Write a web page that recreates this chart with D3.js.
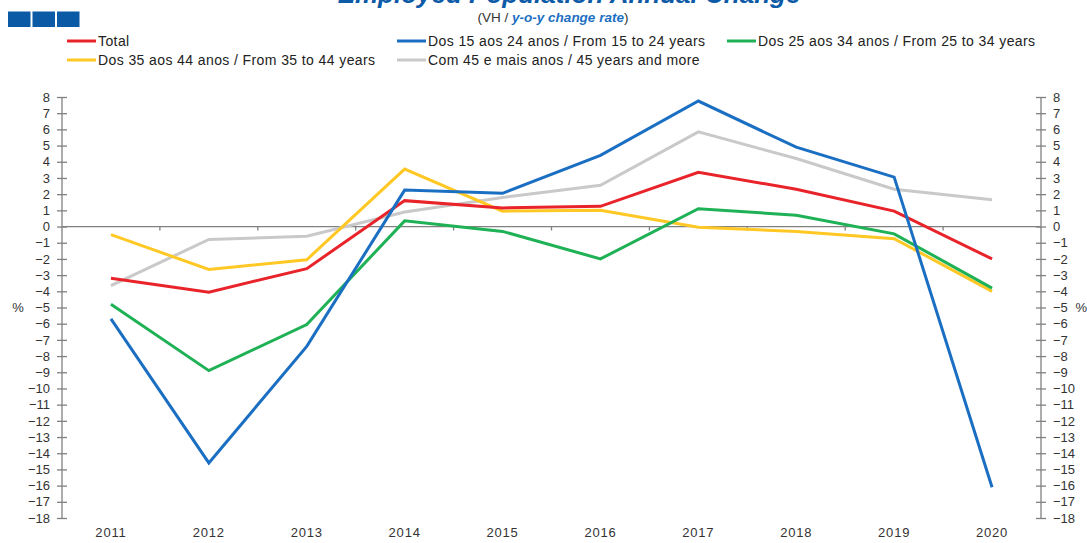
<!DOCTYPE html>
<html><head><meta charset="utf-8">
<script src="https://cdn.jsdelivr.net/npm/d3@7"></script>
<style>body{margin:0;background:#fff;}svg{display:block;font-family:"Liberation Sans",Arial,sans-serif;}</style>
</head><body>
<svg id="c" width="1087" height="543"></svg>
<script>
const years = ["2011","2012","2013","2014","2015","2016","2017","2018","2019","2020"];
const total   = [-3.2,-4.05,-2.6,1.6,1.15,1.25,3.35,2.3,0.95,-2.0];
const age1524 = [-5.7,-14.6,-7.4,2.25,2.05,4.4,7.75,4.9,3.05,-16.1];
const age2534 = [-4.8,-8.9,-6.05,0.35,-0.3,-2.0,1.1,0.7,-0.45,-3.8];
const age3544 = [-0.5,-2.65,-2.05,3.55,0.95,1.0,-0.05,-0.3,-0.75,-4.0];
const age45   = [-3.65,-0.8,-0.6,0.9,1.8,2.55,5.85,4.2,2.3,1.65];
const yTicks = d3.range(-18, 9, 1);
const seriesNames = ["Total","Dos 15 aos 24 anos / From 15 to 24 years","Dos 25 aos 34 anos / From 25 to 34 years","Dos 35 aos 44 anos / From 35 to 44 years","Com 45 e mais anos / 45 years and more"];
const seriesValues = [total, age1524, age2534, age3544, age45];
const colors = ["#e8232a","#1b6fc2","#1fb155","#ffc825","#c9c9c9"];

const svg = d3.select("#c");
const pLeft = 62, pRight = 1041, pTop = 97, pBottom = 518;
const x = d3.scaleBand().domain(years).range([pLeft, pRight]);
const y = d3.scaleLinear().domain([-18, 8]).range([pBottom, pTop]);
const axisColor = "#808080";

// title
svg.append("text").attr("x", 569).attr("y", 3).attr("text-anchor","middle")
  .attr("font-size", 26).attr("font-weight","bold").attr("font-style","italic")
  .attr("fill","#0d5aa7").text("Employed Population Annual Change");
const sub = svg.append("text").attr("x", 553).attr("y", 22).attr("text-anchor","middle")
  .attr("font-size", 13.5).attr("fill","#333");
sub.append("tspan").text("(VH / ");
sub.append("tspan").attr("fill","#1b6fc2").attr("font-style","italic").attr("font-weight","bold").text("y-o-y change rate");
sub.append("tspan").text(")");

// blue squares
[8, 32.5, 57].forEach(sx => svg.append("rect").attr("x", sx).attr("y", 11.5).attr("width", 22.5).attr("height", 15.5).attr("fill","#0b5aa5"));

// legend
const legPos = [[67,41],[397,41],[727,41],[67,60],[397,60]];
seriesNames.forEach((n,i) => {
  const [lx, ly] = legPos[i];
  svg.append("line").attr("x1", lx).attr("x2", lx+29).attr("y1", ly).attr("y2", ly)
    .attr("stroke", colors[i]).attr("stroke-width", 3);
  svg.append("text").attr("x", lx+31).attr("y", ly+5).attr("font-size", 14).attr("letter-spacing", 0.4)
    .attr("fill","#222").text(n);
});

// axes
const yl = d3.axisLeft(y).tickValues(yTicks).tickSize(5).tickFormat(d3.format("d"));
const yr = d3.axisRight(y).tickValues(yTicks).tickSize(5).tickFormat(d3.format("d"));
function styleAxis(g, side){
  g.select(".domain").attr("stroke", axisColor).attr("stroke-width", 1.3);
  g.selectAll(".tick line").attr("stroke", axisColor).attr("stroke-width", 1.3)
    .attr("x1", side === "left" ? 5 : -5);
  g.selectAll(".tick text").attr("font-size", 13).attr("fill","#333").attr("font-family","Liberation Sans, Arial, sans-serif")
    .attr("x", side === "left" ? -12 : 12);
}
const gl = svg.append("g").attr("transform", `translate(${pLeft},0)`).call(yl);
gl.select(".domain").attr("d", `M0,${y(8)}V${y(-18)}`);
styleAxis(gl, "left");
const gr = svg.append("g").attr("transform", `translate(${pRight},0)`).call(yr);
gr.select(".domain").attr("d", `M0,${y(8)}V${y(-18)}`);
styleAxis(gr, "right");

// zero line with category boundary ticks
const gx = svg.append("g").attr("transform", `translate(0,${y(0)})`);
gx.append("line").attr("x1", pLeft).attr("x2", pRight).attr("stroke", axisColor).attr("stroke-width", 1.3);
years.slice(1).forEach(yv => gx.append("line").attr("x1", x(yv)).attr("x2", x(yv)).attr("y1", 0).attr("y2", 4)
  .attr("stroke", axisColor).attr("stroke-width", 1.3));

// category labels
svg.append("g").selectAll("text").data(years).join("text")
  .attr("x", d => x(d) + x.bandwidth()/2).attr("y", 537).attr("text-anchor","middle")
  .attr("font-size", 13).attr("letter-spacing", 0.8).attr("fill","#333").text(d => d);

// % labels
svg.append("text").attr("x", 18).attr("y", 312).attr("text-anchor","middle").attr("font-size", 13).attr("fill","#333").text("%");
svg.append("text").attr("x", 1087).attr("y", 312).attr("text-anchor","end").attr("font-size", 13).attr("fill","#333").text("%");

// lines
const line = d3.line().x((d,i) => x(years[i]) + x.bandwidth()/2).y(d => y(d));
[4,3,2,0,1].forEach(i => {
  svg.append("path").datum(seriesValues[i]).attr("d", line).attr("fill","none")
    .attr("stroke", colors[i]).attr("stroke-width", 3).attr("stroke-linejoin","miter");
});
</script>
</body></html>
